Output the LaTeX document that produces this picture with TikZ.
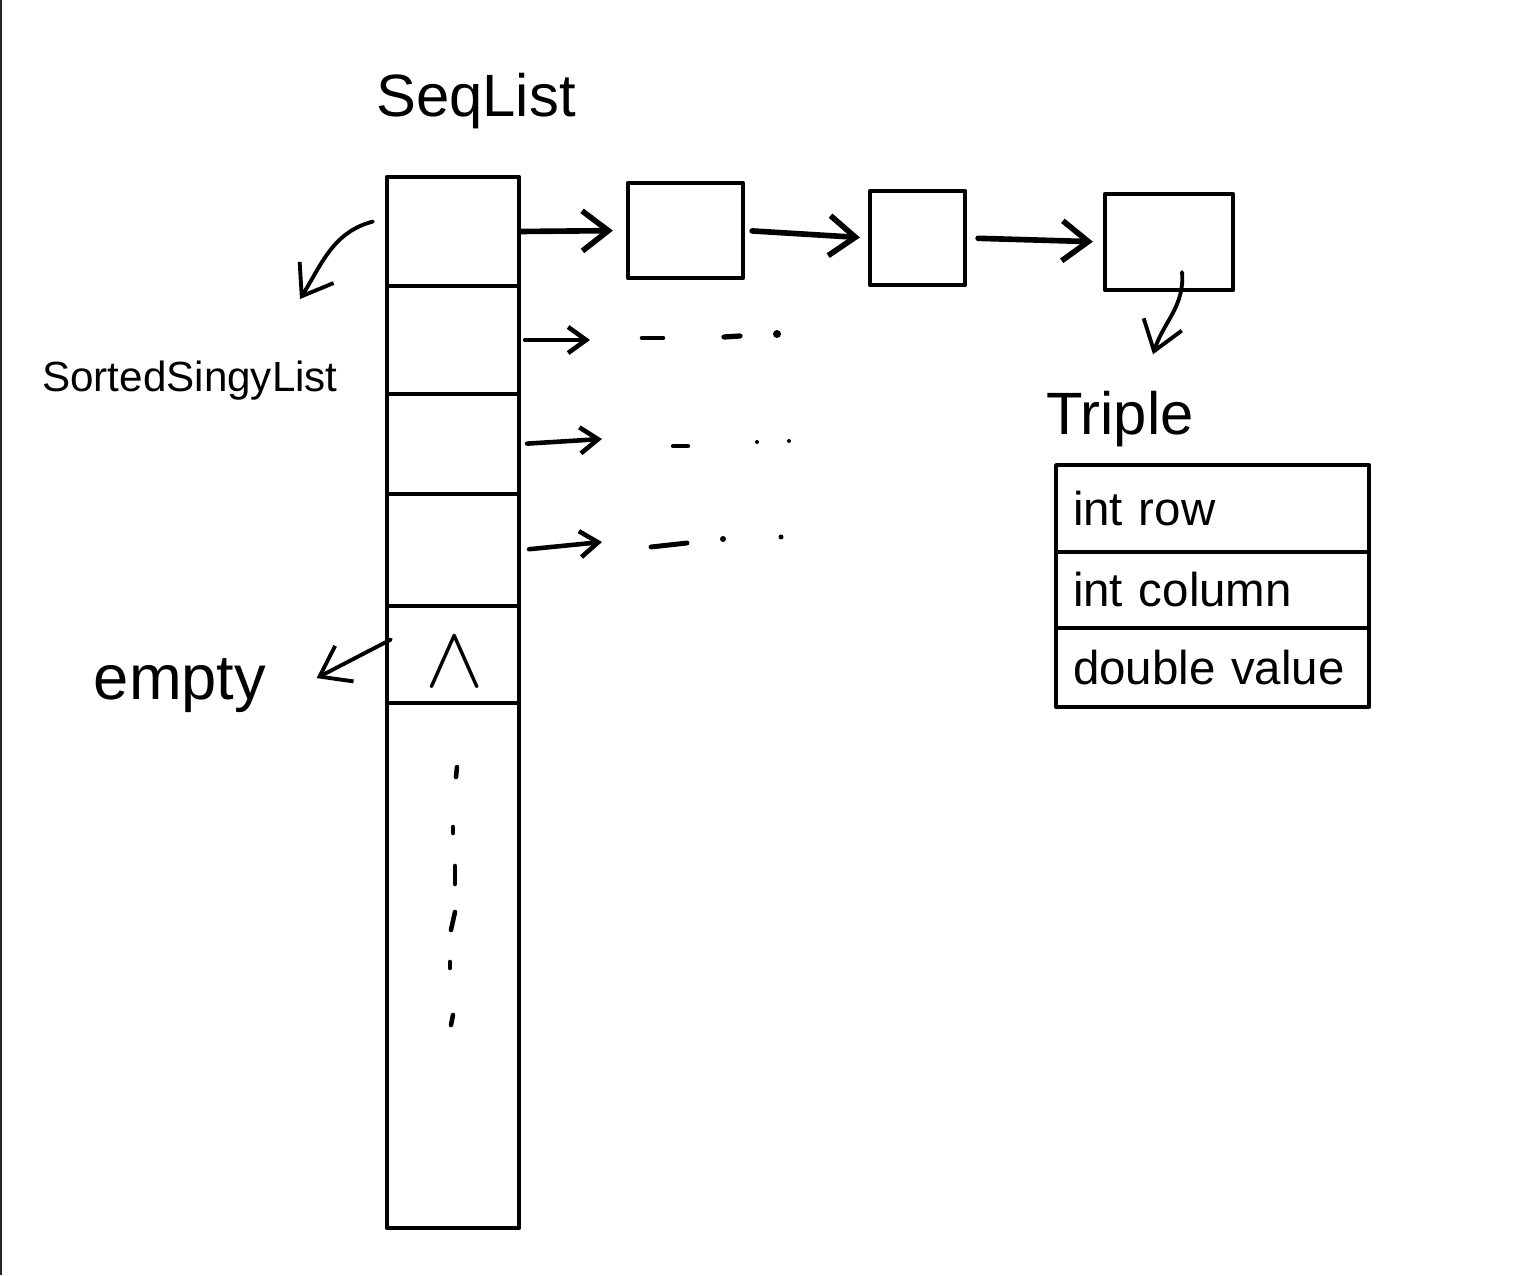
\documentclass[tikz,border=0pt]{standalone}
\usepackage{fontspec}
\setmainfont{Liberation Sans}
\usetikzlibrary{arrows.meta}

\tikzset{
  cell/.style={draw,line width=1.2pt,minimum width=1.32cm,inner sep=0pt},
  elem/.style={draw,line width=1.2pt,inner sep=0pt},
  field/.style={draw,line width=1.1pt,text width=2.79cm,inner xsep=0.17cm,inner ysep=0pt,
    align=left,font=\fontsize{13.5}{15}\selectfont},
  link/.style={line width=1.6pt,-{Straight Barb[length=2.6mm,width=4mm]}},
  ptr/.style={line width=1.3pt,-{Straight Barb[length=1.8mm,width=2.6mm]}},
  note/.style={line width=1.1pt,-{Straight Barb[length=2.8mm,width=4mm]}},
}

\begin{document}
\begin{tikzpicture}[line cap=round,line join=round]
  \useasboundingbox (0,0) rectangle (15.32,12.75);
  % 左边框
  \fill[black!85] (0,0) rectangle (0.02,12.75);
  % 顺序表
  \node[cell,minimum height=1.09cm] (c1) at (4.53,10.435) {};
  \node[cell,minimum height=1.08cm] (c2) at (4.53,9.35) {};
  \node[cell,minimum height=1.00cm] (c3) at (4.53,8.31) {};
  \node[cell,minimum height=1.12cm] (c4) at (4.53,7.25) {};
  \node[cell,minimum height=0.97cm] (c5) at (4.53,6.205) {};
  \node[cell,minimum height=5.25cm] (c6) at (4.53,3.095) {};
  \node[font=\fontsize{17}{19}\selectfont,anchor=base] (seqlist) at (4.76,11.58) {SeqList};
  \node[font=\fontsize{24}{24}\selectfont] (nil) at (4.55,6.13) {$\wedge$};
  \foreach \xa/\ya/\xb/\yb in {4.57/5.08/4.56/4.98, 4.53/4.48/4.53/4.42, 4.55/4.09/4.55/3.91,
                              4.55/3.63/4.51/3.45, 4.50/3.13/4.50/3.07, 4.53/2.60/4.51/2.50} {
    \draw[line width=1.3pt] (\xa,\ya) -- (\xb,\yb);
  }
  % 单链表
  \node[elem,minimum width=1.15cm,minimum height=0.95cm] (n1) at (6.855,10.445) {};
  \node[elem,minimum width=0.95cm,minimum height=0.94cm] (n2) at (9.175,10.37) {};
  \node[elem,minimum width=1.28cm,minimum height=0.96cm] (n3) at (11.69,10.33) {};
  \draw[link,shorten >=1.3mm] (c1.east) -- (n1.west);
  \draw[link,shorten <=0.7mm,shorten >=0.8mm] (n1.east) -- (n2.west);
  \draw[link,shorten <=1.1mm,shorten >=1mm] (n2.east) -- (n3.west);
  % 其余各行
  \coordinate (r2) at (5.90,9.35);
  \coordinate (r3) at (6.02,8.36);
  \coordinate (r4) at (6.02,7.33);
  \draw[ptr,shorten <=0.4mm] (c2.east) -- (r2);
  \draw[ptr,shorten <=0.6mm] (c3.east) -- (r3);
  \draw[ptr,shorten <=0.8mm] (c4.east) -- (r4);
  \draw[line width=1.3pt] (6.42,9.37) -- (6.63,9.37);
  \draw[line width=1.5pt] (7.24,9.38) -- (7.40,9.39);
  \fill (7.77,9.41) circle (0.04);
  \draw[line width=1.2pt] (6.73,8.29) -- (6.88,8.29);
  \fill (7.57,8.33) circle (0.02);
  \fill (7.89,8.34) circle (0.02);
  \draw[line width=1.4pt] (6.51,7.28) -- (6.87,7.32);
  \fill (7.23,7.36) circle (0.03);
  \fill (7.81,7.38) circle (0.025);
  % 标注
  \node[font=\fontsize{12}{14}\selectfont,anchor=base] (sorted) at (1.90,8.83) {SortedSingyList};
  \node[font=\fontsize{18}{20}\selectfont,anchor=base] (empty) at (1.80,5.75) {empty};
  \draw[note] ([xshift=-1.2mm,yshift=1mm]c1.west) to[out=195,in=58] ([xshift=1.1cm,yshift=5mm]sorted.north);
  \draw[note] ([xshift=0.6mm,yshift=1.5mm]c5.west) -- ([xshift=3.8mm,yshift=0.8mm]empty.east);
  % 三元组
  \node[font=\fontsize{17}{19}\selectfont,anchor=base] (triple) at (11.20,8.40) {Triple};
  \draw[note] ([xshift=1.3mm,yshift=2mm]n3.south) to[out=-85,in=72] ([xshift=3.3mm,yshift=2.5mm]triple.north);
  \node[field,minimum height=0.87cm] (row) at (12.125,7.665) {int row};
  \node[field,minimum height=0.76cm] (col) at (12.125,6.85) {int column};
  \node[field,minimum height=0.79cm] (val) at (12.125,6.075) {double value};
\end{tikzpicture}
\end{document}
